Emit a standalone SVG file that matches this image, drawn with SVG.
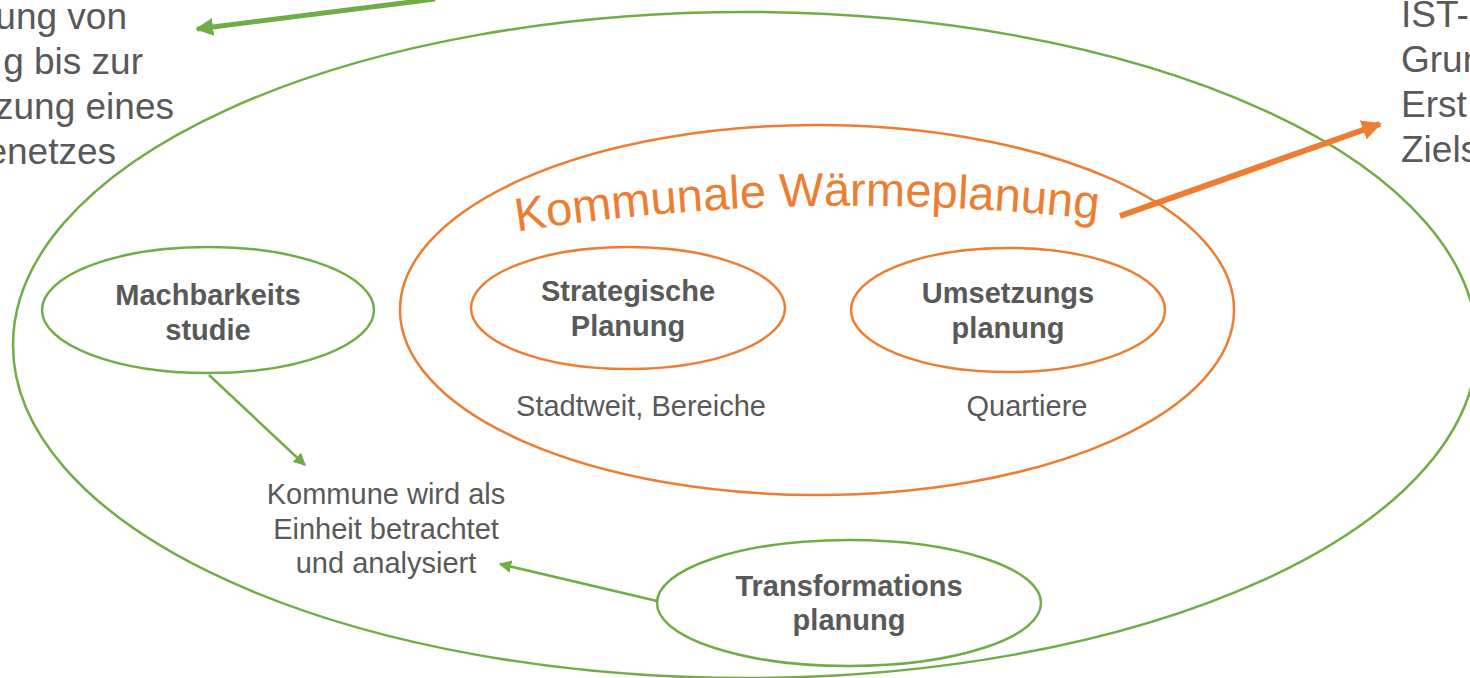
<svg xmlns="http://www.w3.org/2000/svg" width="1470" height="678" viewBox="0 0 1470 678">
<style>
.g{fill:none;stroke:#70AD47;stroke-width:2.5}
.o{fill:none;stroke:#ED7D31;stroke-width:2.5}
.t{font-family:"Liberation Sans",Arial,sans-serif;fill:#595959;text-anchor:middle}
.b{font-weight:bold;font-size:29px}
.r{font-size:29px}
.big{font-family:"Liberation Sans",Arial,sans-serif;fill:#595959;font-size:37px}
</style>
<defs>
<marker id="ag" viewBox="0 0 10 10" refX="9" refY="5" markerWidth="5" markerHeight="5" orient="auto" markerUnits="strokeWidth"><path d="M0,0 L10,5 L0,10 z" fill="#70AD47"/></marker>
<marker id="agb" viewBox="0 0 10 10" refX="9" refY="5" markerWidth="3.6" markerHeight="3.6" orient="auto" markerUnits="strokeWidth"><path d="M0,0 L10,5 L0,10 z" fill="#70AD47"/></marker>
<marker id="ao" viewBox="0 0 10 10" refX="9" refY="5" markerWidth="3.3" markerHeight="3.3" orient="auto" markerUnits="strokeWidth"><path d="M0,0 L10,5 L0,10 z" fill="#ED7D31"/></marker>
<path id="arc" d="M 495 235 A 2200 2200 0 0 1 1120 222"/>
</defs>
<rect width="1470" height="678" fill="#fff"/>
<g id="outer"><ellipse class="g" cx="745" cy="345" rx="732" ry="333"/></g>
<g id="kwp">
<ellipse class="o" cx="817" cy="310" rx="417" ry="185"/>
<text font-family="Liberation Sans,Arial,sans-serif" font-size="47" fill="#ED7D31" text-anchor="middle"><textPath href="#arc" startOffset="50%">Kommunale Wärmeplanung</textPath></text>
</g>
<g id="machbarkeit">
<ellipse class="g" cx="208" cy="310" rx="166" ry="63"/>
<text class="t b" x="208" y="305">Machbarkeits</text>
<text class="t b" x="208" y="340">studie</text>
</g>
<g id="strategisch">
<ellipse class="o" cx="628" cy="308" rx="157" ry="61"/>
<text class="t b" x="628" y="301">Strategische</text>
<text class="t b" x="628" y="336">Planung</text>
</g>
<g id="umsetzung">
<ellipse class="o" cx="1008" cy="310" rx="157" ry="62"/>
<text class="t b" x="1008" y="303">Umsetzungs</text>
<text class="t b" x="1008" y="338">planung</text>
</g>
<g id="transformation">
<ellipse class="g" cx="849" cy="603" rx="192" ry="63"/>
<text class="t b" x="849" y="596">Transformations</text>
<text class="t b" x="849" y="630">planung</text>
</g>
<g id="labels">
<text class="t r" x="641" y="416">Stadtweit, Bereiche</text>
<text class="t r" x="1027" y="416">Quartiere</text>
<text class="t r" x="386" y="504">Kommune wird als</text>
<text class="t r" x="386" y="539">Einheit betrachtet</text>
<text class="t r" x="386" y="573">und analysiert</text>
</g>
<g id="left-text" class="big" text-anchor="end">
<text x="127" y="29">ung von</text>
<text x="143" y="74">g bis zur</text>
<text x="174" y="119">zung eines</text>
<text x="116" y="164">enetzes</text>
</g>
<g id="right-text" class="big">
<text x="1401" y="27">IST-</text>
<text x="1401" y="72">Grun</text>
<text x="1401" y="117">Erst</text>
<text x="1401" y="162">Ziels</text>
</g>
<g id="connectors">
<line x1="435" y1="-1" x2="197" y2="29" stroke="#70AD47" stroke-width="5" marker-end="url(#agb)"/>
<line x1="1120" y1="216" x2="1380" y2="124" stroke="#ED7D31" stroke-width="6" marker-end="url(#ao)"/>
<line x1="209" y1="375" x2="305" y2="465" stroke="#70AD47" stroke-width="2.5" marker-end="url(#ag)"/>
<line x1="657" y1="601" x2="500" y2="564" stroke="#70AD47" stroke-width="2.5" marker-end="url(#ag)"/>
</g>
</svg>
